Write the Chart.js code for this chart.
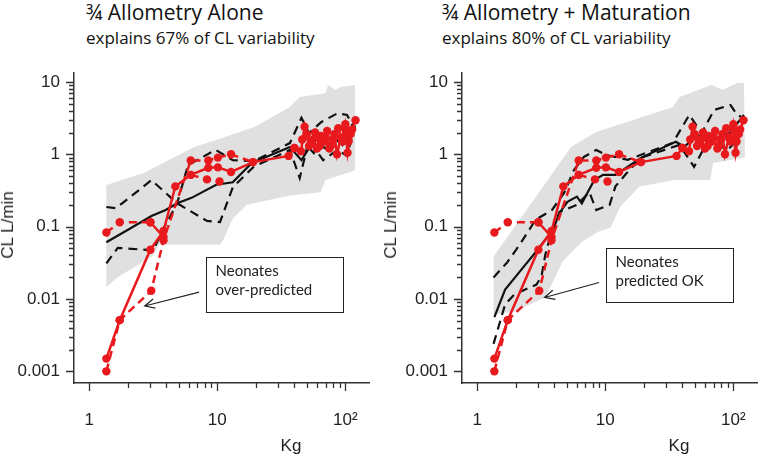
<!DOCTYPE html>
<html lang="en">
<head>
<meta charset="UTF-8">
<title>CL vs body weight - allometry and maturation</title>
<script src="https://cdn.jsdelivr.net/npm/chart.js"></script>
<style>
    body {
        margin: 0;
        background: #fff;
        width: 773px;
        height: 460px;
        position: relative;
        overflow: hidden;
    }
    canvas { position: absolute; top: 0; }
    .title {
        position: absolute;
        font-family: "Open Sans", Lato, sans-serif;
        font-weight: 400;
        color: #111;
        white-space: nowrap;
    }
    .t1 { font-size: 21px; line-height: 24px; top: 0; }
    .t2 { font-size: 17px; line-height: 20px; top: 28px; }
    .axlab {
        position: absolute;
        font-family: "Liberation Sans", Arial, sans-serif;
        font-size: 17px;
        color: #222;
        white-space: nowrap;
        transform: translate(-50%, -50%);
    }
    .ylab { transform: translate(-50%, -50%) rotate(-90deg); }
</style>
</head>
<body>

<div class="title t1" style="left:86px">¾ Allometry Alone</div>
<div class="title t2" style="left:86px">explains 67% of CL variability</div>
<div class="title t1" style="left:442px">¾ Allometry + Maturation</div>
<div class="title t2" style="left:442px">explains 80% of CL variability</div>

<canvas id="chartAllo" width="385" height="460" style="left:0"></canvas>
<canvas id="chartMat" width="385" height="460" style="left:388px"></canvas>

<div class="axlab ylab" style="left:8px;top:225px">CL L/min</div>
<div class="axlab ylab" style="left:391px;top:225px">CL L/min</div>
<div class="axlab" style="left:291px;top:446px">Kg</div>
<div class="axlab" style="left:679px;top:446px">Kg</div>

<script>
// axis ticks
const kgTicks = [1, 10, 100];
const kgTickLabels = ['1', '10', '10\u00b2'];
const clTicks = [0.001, 0.01, 0.1, 1, 10];
const clTickLabels = ['0.001', '0.01', '0.1', '1', '10'];

// observed CL (red) - same subjects in both panels
const obsA_kg = [1.36, 1.73, 3.0, 3.8, 4.7, 6.2, 8.5, 10.1, 12.8, 19, 36, 40];
const obsA_cl = [0.0015, 0.0051, 0.048, 0.087, 0.36, 0.52, 0.65, 0.66, 0.57, 0.78, 0.95, 1.22];
const obsB_kg = [1.36, 1.73, 3.05, 3.8, 6.2, 8.5, 10.1, 12.8, 19];
const obsB_cl = [0.001, 0.0051, 0.013, 0.065, 0.82, 0.82, 0.9, 1.0, 0.78];
const obsC_kg = [1.36, 1.73, 3.0];
const obsC_cl = [0.083, 0.115, 0.115];
const obsD_kg = [3.0, 3.8];
const obsD_cl = [0.115, 0.072];
const obsE_kg = [6.2, 8.3, 10.4];
const obsE_cl = [0.52, 0.45, 0.42];
const obsF_kg = [40, 45, 48, 52, 56, 60, 64, 68, 72, 77, 82, 86, 92, 100, 104, 110, 120];
const obsF_cl = [1.22, 1.1, 2.4, 1.3, 1.6, 1.2, 1.8, 1.5, 2.1, 1.3, 1.9, 1.0, 1.7, 2.2, 1.05, 1.9, 2.95];
const obsG_kg = [46, 50, 55, 58, 63, 70, 75, 80, 88, 95, 100, 106, 113];
const obsG_cl = [1.6, 1.9, 1.4, 2.0, 1.3, 1.7, 1.2, 1.6, 2.3, 1.5, 2.6, 1.5, 2.2];

// 3/4 allometry alone: median, percentile lines, prediction band
const alloMed_kg = [1.36, 1.99, 3.06, 3.95, 4.86, 6.29, 9.8, 13.2, 18.6, 36.9, 45.4, 52, 56.7, 61.8, 70, 80, 95, 117];
const alloMed_cl = [0.061, 0.09, 0.14, 0.17, 0.21, 0.25, 0.38, 0.41, 0.76, 1.26, 0.83, 1.22, 1.04, 1.43, 1.2, 1.74, 1.34, 2.7];
const alloPa_kg = [1.36, 1.62, 3.06, 4.86, 8.3, 10.5, 13.2, 19.2, 36.9, 44, 52, 67, 87, 103, 119];
const alloPa_cl = [0.187, 0.18, 0.44, 0.21, 0.12, 0.116, 0.35, 0.67, 1.15, 0.47, 1.58, 0.83, 1.15, 0.95, 2.5];
const alloPb_kg = [1.36, 1.67, 3.16, 3.75, 4.86, 5.9, 9.7, 13.2, 19.2, 36.9, 45.4, 52, 65, 87, 103, 119];
const alloPb_cl = [0.031, 0.051, 0.047, 0.09, 0.21, 0.71, 1.15, 0.83, 0.8, 1.43, 3.2, 1.97, 2.8, 3.7, 3.5, 2.17];
const alloBandUp_kg = [1.36, 2.66, 6.6, 9.8, 19.6, 36.9, 43.8, 69.7, 73.4, 83, 91.8, 119];
const alloBandUp_cl = [0.376, 0.55, 1.26, 1.58, 2.4, 4.5, 6.2, 7.0, 9.1, 7.8, 8.5, 9.1];
const alloBandLo_kg = [1.36, 1.67, 3.16, 3.5, 10.5, 11.1, 13.2, 17, 36.9, 64, 70, 119];
const alloBandLo_cl = [0.0146, 0.02, 0.04, 0.056, 0.056, 0.065, 0.13, 0.2, 0.27, 0.3, 0.44, 0.6];

// 3/4 allometry + maturation
const matMed_kg = [1.36, 1.65, 2.21, 2.96, 3.9, 4.4, 5.06, 6.0, 6.55, 8.2, 9.6, 12, 19.1, 35.5, 41.5, 49.3, 58.6, 69.6, 93.4, 121];
const matMed_cl = [0.0056, 0.0135, 0.0255, 0.048, 0.091, 0.156, 0.22, 0.26, 0.21, 0.44, 0.52, 0.52, 0.9, 1.49, 1.27, 1.69, 1.86, 1.58, 1.98, 3.5];
const matPa_kg = [1.34, 1.71, 2.14, 2.86, 3.84, 4.8, 5.7, 6.8, 8.5, 10.1, 15, 33.7, 45.2, 56.6, 70.8, 95, 107, 119];
const matPa_cl = [0.0198, 0.032, 0.056, 0.125, 0.17, 0.3, 0.61, 0.92, 1.15, 0.98, 0.84, 1.44, 3.5, 1.98, 4.1, 4.8, 3.5, 3.2];
const matPb_kg = [1.34, 1.65, 1.96, 2.9, 3.17, 3.4, 3.78, 4.4, 6.0, 7.5, 8.5, 10.8, 12, 14.7, 19.1, 38, 49.3, 63.7, 90, 107, 121];
const matPb_cl = [0.0024, 0.0084, 0.0117, 0.0158, 0.0204, 0.041, 0.082, 0.16, 0.2, 0.3, 0.17, 0.2, 0.36, 0.55, 0.9, 1.35, 0.67, 1.58, 1.15, 1.58, 3.2];
const matBandUp_kg = [1.34, 5.42, 8.5, 33.7, 38, 67, 83, 107, 121];
const matBandUp_cl = [0.0386, 1.27, 2.04, 4.5, 6.2, 9.1, 7.8, 9.7, 9.7];
const matBandLo_kg = [1.34, 1.96, 3.4, 4.64, 6.55, 8.8, 11, 13.1, 18.5, 34.9, 66, 69.6, 123];
const matBandLo_cl = [0.0061, 0.0067, 0.0105, 0.033, 0.062, 0.085, 0.097, 0.19, 0.36, 0.44, 0.44, 0.76, 0.9];

const RED = '#e8191c';
const BAND = '#e0e0e0';

function pts(kg, cl) {
    return kg.map((x, i) => ({ x: x, y: cl[i] }));
}

function redLine(kg, cl, dashed) {
    return {
        data: pts(kg, cl),
        showLine: true,
        borderColor: RED,
        backgroundColor: RED,
        borderWidth: 2.5,
        borderDash: dashed ? [8, 5] : [],
        pointRadius: 4.2,
        pointBorderWidth: 0,
        fill: false
    };
}

function blackLine(kg, cl, dashed) {
    return {
        data: pts(kg, cl),
        showLine: true,
        borderColor: '#111',
        borderWidth: 2.2,
        borderDash: dashed ? [9, 6] : [],
        pointRadius: 0,
        fill: false
    };
}

function band(upKg, upCl, loKg, loCl) {
    const poly = pts(upKg, upCl).concat(pts(loKg, loCl).reverse());
    return {
        data: poly,
        showLine: true,
        borderWidth: 0,
        borderColor: BAND,
        backgroundColor: BAND,
        pointRadius: 0,
        fill: 'shape'
    };
}

// R-style outward tick marks, major + minor
const axisTicks = {
    id: 'axisTicks',
    afterDraw(chart) {
        const { ctx, chartArea } = chart;
        const x = chart.scales.x, y = chart.scales.y;
        ctx.save();
        ctx.strokeStyle = '#333';
        ctx.lineWidth = 1.3;
        ctx.beginPath();
        for (let e = -3; e <= 2; e++) {
            for (let m = 1; m <= 9; m++) {
                const v = m * Math.pow(10, e);
                const len = m === 1 ? 8 : 5;
                if (v >= 1 - 1e-9 && v <= 100 + 1e-9) {
                    const px = Math.round(x.getPixelForValue(v)) + 0.5;
                    ctx.moveTo(px, chartArea.bottom);
                    ctx.lineTo(px, chartArea.bottom + len);
                }
                if (v >= 0.001 - 1e-12 && v <= 10 + 1e-9) {
                    const py = Math.round(y.getPixelForValue(v)) + 0.5;
                    ctx.moveTo(chartArea.left, py);
                    ctx.lineTo(chartArea.left - len, py);
                }
            }
        }
        ctx.stroke();
        ctx.restore();
    }
};

function notePlugin(note) {
    return {
        id: 'note',
        afterDatasetsDraw(chart) {
            const { ctx } = chart;
            const x = chart.scales.x, y = chart.scales.y;
            const bx0 = Math.round(x.getPixelForValue(note.box[0])) + 0.5;
            const by0 = Math.round(y.getPixelForValue(note.box[1])) + 0.5;
            const bx1 = Math.round(x.getPixelForValue(note.box[2])) + 0.5;
            const by1 = Math.round(y.getPixelForValue(note.box[3])) + 0.5;
            ctx.save();
            ctx.fillStyle = '#fff';
            ctx.fillRect(bx0, by0, bx1 - bx0, by1 - by0);
            ctx.strokeStyle = '#222';
            ctx.lineWidth = 1;
            ctx.strokeRect(bx0, by0, bx1 - bx0, by1 - by0);
            ctx.fillStyle = '#222';
            ctx.font = '15px Lato, "Open Sans", sans-serif';
            ctx.textBaseline = 'middle';
            note.lines.forEach((t, i) => ctx.fillText(t, bx0 + 9, by0 + 14 + i * 19));

            // arrow
            const ax0 = x.getPixelForValue(note.arrow[0]), ay0 = y.getPixelForValue(note.arrow[1]);
            const ax1 = x.getPixelForValue(note.arrow[2]), ay1 = y.getPixelForValue(note.arrow[3]);
            const ang = Math.atan2(ay1 - ay0, ax1 - ax0);
            ctx.strokeStyle = '#222';
            ctx.lineWidth = 1.2;
            ctx.beginPath();
            ctx.moveTo(ax0, ay0);
            ctx.lineTo(ax1, ay1);
            ctx.moveTo(ax1 - 11 * Math.cos(ang - 0.45), ay1 - 11 * Math.sin(ang - 0.45));
            ctx.lineTo(ax1, ay1);
            ctx.lineTo(ax1 - 11 * Math.cos(ang + 0.45), ay1 - 11 * Math.sin(ang + 0.45));
            ctx.stroke();
            ctx.restore();
        }
    };
}

function makePanel(canvasId, lines, note) {
    const datasets = [
        redLine(obsA_kg, obsA_cl, false),
        redLine(obsB_kg, obsB_cl, true),
        redLine(obsC_kg, obsC_cl, true),
        redLine(obsD_kg, obsD_cl, false),
        redLine(obsE_kg, obsE_cl, true),
        redLine(obsF_kg, obsF_cl, false),
        redLine(obsG_kg, obsG_cl, false),
        blackLine(lines.med[0], lines.med[1], false),
        blackLine(lines.pa[0], lines.pa[1], true),
        blackLine(lines.pb[0], lines.pb[1], true),
        band(lines.up[0], lines.up[1], lines.lo[0], lines.lo[1])
    ];
    const tickFont = { family: '"Liberation Sans", Arial, sans-serif', size: 17 };
    return new Chart(document.getElementById(canvasId), {
        type: 'scatter',
        data: { datasets: datasets },
        options: {
            responsive: false,
            animation: false,
            events: [],
            layout: { padding: { top: 73, right: 2, left: 0, bottom: 0 } },
            plugins: { legend: { display: false }, tooltip: { enabled: false } },
            scales: {
                x: {
                    type: 'logarithmic',
                    min: 0.76,
                    max: 154,
                    afterBuildTicks: s => { s.ticks = kgTicks.map(v => ({ value: v })); },
                    afterFit: s => { s.height = 77; },
                    grid: { display: false, drawTicks: false },
                    border: { display: true, color: '#333', width: 1.5 },
                    ticks: {
                        padding: 27,
                        color: '#222',
                        font: tickFont,
                        maxRotation: 0,
                        autoSkip: false,
                        callback: (v, i) => kgTickLabels[i]
                    }
                },
                y: {
                    type: 'logarithmic',
                    min: 0.00069,
                    max: 13.3,
                    afterBuildTicks: s => { s.ticks = clTicks.map(v => ({ value: v })); },
                    afterFit: s => { s.width = 74; },
                    grid: { display: false, drawTicks: false },
                    border: { display: true, color: '#333', width: 1.5 },
                    ticks: {
                        padding: 14,
                        color: '#222',
                        font: tickFont,
                        autoSkip: false,
                        callback: (v, i) => clTickLabels[i]
                    }
                }
            }
        },
        plugins: [axisTicks, notePlugin(note)]
    });
}

makePanel('chartAllo', {
    med: [alloMed_kg, alloMed_cl],
    pa: [alloPa_kg, alloPa_cl],
    pb: [alloPb_kg, alloPb_cl],
    up: [alloBandUp_kg, alloBandUp_cl],
    lo: [alloBandLo_kg, alloBandLo_cl]
}, {
    box: [8.1, 0.038, 96.6, 0.0066],
    lines: ['Neonates', 'over-predicted'],
    arrow: [7.21, 0.01245, 2.71, 0.008]
});

makePanel('chartMat', {
    med: [matMed_kg, matMed_cl],
    pa: [matPa_kg, matPa_cl],
    pb: [matPb_kg, matPb_cl],
    up: [matBandUp_kg, matBandUp_cl],
    lo: [matBandLo_kg, matBandLo_cl]
}, {
    box: [10.1, 0.051, 100, 0.00895],
    lines: ['Neonates', 'predicted OK'],
    arrow: [8.94, 0.0169, 3.35, 0.0105]
});
</script>

</body>
</html>
